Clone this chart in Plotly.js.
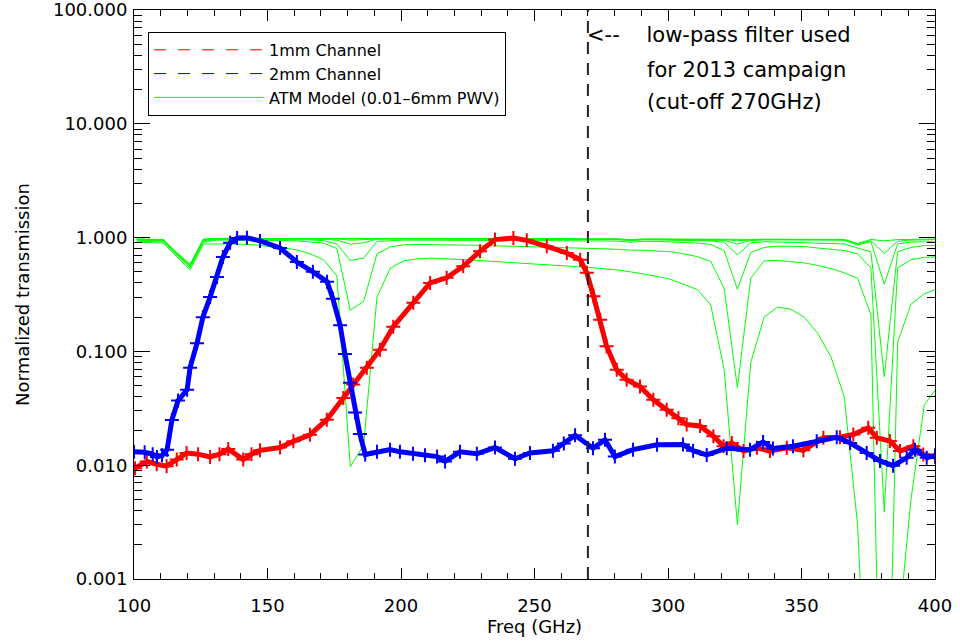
<!DOCTYPE html>
<html>
<head>
<meta charset="utf-8">
<script src="https://cdn.plot.ly/plotly-3.0.1.min.js"></script>
<style>html,body{margin:0;padding:0;background:#fff;}#chart{width:960px;height:644px;}</style>
</head>
<body>
<div id="chart"></div>
<script>
// ---------------- data ----------------
const cutoffFreq = 270;

// 2mm channel (blue)
const ch2Freq = [100,104,107,108.6,110.5,112.4,114.2,116.5,119.9,121,123.6,125.8,128.5,131.1,133.3,136,138.6,142.3,147.2,154.7,161,167,172.3,174.5,177.2,179,180.9,182.8,184.6,186.6,191,195.9,199.6,204.5,209,213.5,216.5,222.1,228.4,235.2,242.7,248.3,256.9,261,265.2,271.9,276.4,280.1,286.9,295.9,305.6,309.4,314.5,322,330.7,335.6,339.3,346.8,355.7,363.2,368.2,374.4,379.4,384.3,389.4,392.5,396.9,400];
const ch2Trans = [0.0131,0.013,0.0125,0.0118,0.0122,0.0137,0.025,0.037,0.046,0.072,0.118,0.2,0.3,0.45,0.675,0.9,0.99,0.995,0.935,0.81,0.61,0.5,0.41,0.29,0.17,0.095,0.053,0.029,0.0188,0.0124,0.0131,0.0137,0.0131,0.0126,0.0122,0.0119,0.0108,0.0131,0.0126,0.0143,0.0114,0.0128,0.0134,0.0155,0.0183,0.0141,0.0167,0.0119,0.0137,0.0151,0.0152,0.0134,0.0123,0.0141,0.0137,0.016,0.014,0.0147,0.0162,0.0176,0.0157,0.0128,0.0109,0.0099,0.0116,0.0137,0.0116,0.0122];

// 1mm channel (red)
const ch1Freq = [100.4,104.8,108.5,112.2,116,119.7,124,128.5,132,135.3,140.9,144,147.2,154.7,159.7,165.9,172.2,178.4,182.1,187.2,192.1,197.1,204.6,210.9,217.1,223.3,229.6,235.2,242.1,247.1,254.6,262.1,267.1,269.6,272.1,274.6,277,280.8,284.5,289.5,294.5,299.5,303.9,307,312,317,320.8,323.9,328.3,333.3,338.2,344.5,350.7,358.2,364.4,369.4,375,378.2,383.1,386.9,391.9,395.6,400];
const ch1Trans = [0.0094,0.0108,0.0102,0.0098,0.0112,0.0128,0.0125,0.0118,0.0125,0.0139,0.0112,0.0125,0.0135,0.0143,0.0162,0.0185,0.0251,0.0389,0.0513,0.0719,0.1035,0.165,0.267,0.40,0.443,0.56,0.757,0.96,0.99,0.946,0.838,0.733,0.64,0.49,0.305,0.19,0.111,0.069,0.0564,0.0492,0.0376,0.0307,0.0259,0.0228,0.0221,0.018,0.0147,0.0157,0.0133,0.0142,0.0133,0.0142,0.0135,0.0174,0.0176,0.0186,0.0213,0.0174,0.0163,0.0133,0.0147,0.0124,0.0118];

// ATM model frequencies (GHz)
const atmFreq = [101,106,111,116,121,126,131,136,141,146,151,156,161,166,171,176,181,186,191,196,201,206,211,216,221,226,231,236,241,246,251,256,261,266,271,276,281,286,291,296,301,306,311,316,321,326,331,336,341,346,351,356,361,366,371,376,381,386,391,396,401];

// ATM model transmissions, driest (0.01 mm) to wettest (6 mm)
const atmPwv1 = [0.975,0.97,0.96,0.74,0.58,0.97,0.985,0.985,0.985,0.985,0.985,0.985,0.985,0.985,0.985,0.985,0.98,0.982,0.985,0.985,0.985,0.985,0.985,0.985,0.985,0.985,0.985,0.985,0.983,0.982,0.98,0.98,0.98,0.978,0.977,0.976,0.975,0.96,0.974,0.972,0.97,0.97,0.97,0.968,0.966,0.956,0.965,0.968,0.968,0.968,0.967,0.967,0.966,0.965,0.89,0.962,0.937,0.96,0.965,0.965,0.97];
const atmPwv2 = [0.97,0.965,0.955,0.735,0.578,0.965,0.982,0.982,0.982,0.982,0.982,0.982,0.982,0.982,0.982,0.98,0.975,0.978,0.982,0.983,0.983,0.983,0.983,0.982,0.982,0.981,0.981,0.98,0.98,0.979,0.978,0.977,0.976,0.975,0.974,0.972,0.97,0.955,0.968,0.968,0.966,0.965,0.965,0.962,0.958,0.94,0.955,0.96,0.962,0.96,0.96,0.958,0.957,0.955,0.875,0.94,0.726,0.93,0.95,0.955,0.96];
const atmPwv3 = [0.965,0.96,0.95,0.73,0.575,0.96,0.98,0.98,0.98,0.98,0.98,0.98,0.979,0.978,0.976,0.975,0.95,0.96,0.98,0.98,0.98,0.98,0.98,0.979,0.978,0.977,0.976,0.975,0.974,0.973,0.972,0.971,0.97,0.969,0.968,0.967,0.966,0.95,0.965,0.965,0.963,0.962,0.96,0.957,0.945,0.877,0.945,0.955,0.957,0.956,0.955,0.954,0.952,0.948,0.86,0.92,0.39,0.88,0.915,0.918,0.918];
const atmPwv4 = [0.96,0.955,0.945,0.725,0.57,0.955,0.975,0.975,0.975,0.975,0.975,0.974,0.973,0.97,0.965,0.95,0.877,0.9,0.97,0.975,0.975,0.975,0.974,0.973,0.972,0.971,0.97,0.969,0.968,0.967,0.966,0.965,0.964,0.963,0.962,0.961,0.96,0.94,0.958,0.956,0.955,0.95,0.945,0.935,0.91,0.706,0.9,0.92,0.915,0.908,0.9,0.895,0.89,0.88,0.81,0.75,0.06,0.75,0.82,0.85,0.859];
const atmPwv5 = [0.95,0.945,0.935,0.715,0.558,0.94,0.965,0.965,0.965,0.965,0.964,0.962,0.96,0.955,0.94,0.88,0.63,0.66,0.926,0.945,0.95,0.95,0.95,0.95,0.949,0.948,0.947,0.946,0.945,0.944,0.943,0.942,0.94,0.938,0.936,0.934,0.932,0.91,0.928,0.926,0.92,0.91,0.895,0.87,0.77,0.352,0.74,0.82,0.84,0.84,0.835,0.81,0.785,0.77,0.72,0.54,0.0039,0.54,0.64,0.67,0.68];
const atmPwv6 = [0.93,0.925,0.915,0.70,0.54,0.915,0.95,0.95,0.95,0.948,0.945,0.94,0.935,0.92,0.895,0.8,0.23,0.275,0.72,0.83,0.864,0.87,0.87,0.866,0.862,0.858,0.853,0.848,0.843,0.838,0.832,0.826,0.82,0.812,0.805,0.797,0.79,0.775,0.775,0.765,0.75,0.72,0.68,0.617,0.36,0.048,0.44,0.625,0.63,0.615,0.6,0.57,0.535,0.49,0.44,0.21,0.000001,0.12,0.26,0.32,0.357];
const atmPwv7 = [0.91,0.905,0.895,0.68,0.52,0.88,0.88,0.878,0.875,0.86,0.84,0.81,0.78,0.72,0.64,0.46,0.0097,0.015,0.3,0.54,0.625,0.65,0.66,0.655,0.645,0.635,0.625,0.618,0.61,0.6,0.59,0.58,0.57,0.555,0.545,0.535,0.52,0.5,0.48,0.456,0.43,0.39,0.35,0.256,0.07,0.003,0.08,0.2,0.245,0.235,0.2,0.145,0.09,0.04,0.003,0.00001,0.0000001,0.0003,0.005,0.034,0.049];

const atmCurves = [atmPwv1, atmPwv2, atmPwv3, atmPwv4, atmPwv5, atmPwv6, atmPwv7];

const yTickVals = [0.001, 0.01, 0.1, 1, 10, 100];
const yTickText = ['0.001', '0.010', '0.100', '1.000', '10.000', '100.000'];

const legendNames = ['1mm Channel', '2mm Channel', 'ATM Model (0.01\u20136mm PWV)'];
const noteLines = ['&lt;--\u00a0\u00a0\u00a0 low-pass filter used', 'for 2013 campaign', '(cut-off 270GHz)'];

// ---------------- drawing ----------------
const FONT = '"DejaVu Sans", sans-serif';
const RED = '#ff0000', BLUE = '#0000ff', GREEN = '#00ff00';

// minor tick positions of the log axis (2..9 within each decade)
const yMinor = [];
for (let e = -3; e < 2; e++) for (let m = 2; m <= 9; m++) yMinor.push(m * Math.pow(10, e));

const traces = [];
traces.push({x:[null], y:[null], type:'scatter', mode:'lines', name:legendNames[0],
  line:{color:RED, width:1, dash:'12px,12px'}, showlegend:true, legendrank:1, hoverinfo:'skip'});
traces.push({x:[null], y:[null], type:'scatter', mode:'lines', name:legendNames[1],
  line:{color:BLUE, width:1, dash:'12px,12px'}, showlegend:true, legendrank:2, hoverinfo:'skip'});

atmCurves.forEach((c, i) => {
  traces.push({x: atmFreq, y: c, type:'scatter', mode:'lines', name: legendNames[2],
    line:{color:GREEN, width:1}, showlegend: i === 0, legendrank:3, hoverinfo:'skip'});
});

traces.push({x: ch1Freq, y: ch1Trans, type:'scatter', mode:'lines+markers', name:legendNames[0],
  line:{color:RED, width:5}, marker:{symbol:'cross-thin', size:10, line:{color:RED, width:2}},
  showlegend:false});
traces.push({x: ch2Freq, y: ch2Trans, type:'scatter', mode:'lines+markers', name:legendNames[1],
  line:{color:BLUE, width:5}, marker:{symbol:'cross-thin', size:10, line:{color:BLUE, width:2}},
  showlegend:false});

const noteY = [0.956, 0.894, 0.838];
const noteShift = [-3, 57, 57];
const annotations = noteLines.map((t, i) => ({
  text: t, x: cutoffFreq, xref:'x', y: noteY[i], yref:'paper', xanchor:'left', yanchor:'middle',
  xshift: noteShift[i], showarrow:false, font:{family:FONT, size:21, color:'#000'}
}));

const layout = {
  width: 960, height: 644,
  margin: {l:134, r:25, t:10, b:65},
  paper_bgcolor:'#fff', plot_bgcolor:'#fff',
  font: {family: FONT, color:'#000', size:16},
  showlegend: true,
  legend: {x:0.0175, y:0.9615, xanchor:'left', yanchor:'top', bgcolor:'#fff',
    bordercolor:'#000', borderwidth:1, font:{family:FONT, size:16, color:'#000'},
    itemwidth: 110, traceorder:'normal', tracegroupgap:0},
  xaxis: {range:[100,400], tick0:100, dtick:50, ticks:'inside', ticklen:11, tickwidth:1,
    tickcolor:'#000', minor:{ticks:'inside', ticklen:6, dtick:10, tickcolor:'#000', showgrid:false},
    showline:true, linecolor:'#000', linewidth:1, mirror:'ticks', showgrid:false, zeroline:false,
    ticklabelstandoff: 10, ticklabeloverflow:'allow',
    tickfont:{family:FONT, size:18}, title:{text:'Freq (GHz)', font:{family:FONT, size:18}, standoff:5}},
  yaxis: {type:'log', range:[-3, 2], tickmode:'array', tickvals:yTickVals, ticktext:yTickText,
    ticks:'inside', ticklen:16, tickwidth:1, tickcolor:'#000',
    minor:{tickmode:'array', tickvals:yMinor, ticks:'inside', ticklen:8, tickcolor:'#000', showgrid:false},
    showline:true, linecolor:'#000', linewidth:1, mirror:'ticks', showgrid:false, zeroline:false,
    ticklabelstandoff: 2, ticklabeloverflow:'allow',
    tickfont:{family:FONT, size:18}, title:{text:'Normalized transmission', font:{family:FONT, size:18}, standoff:18}},
  shapes: [{type:'line', xref:'x', yref:'paper', x0:cutoffFreq, x1:cutoffFreq, y0:0, y1:1,
    line:{color:'#222', width:2, dash:'12px,9px'}}],
  annotations: annotations
};

Plotly.newPlot('chart', traces, layout, {displayModeBar:false, staticPlot:true});
</script>
</body>
</html>
